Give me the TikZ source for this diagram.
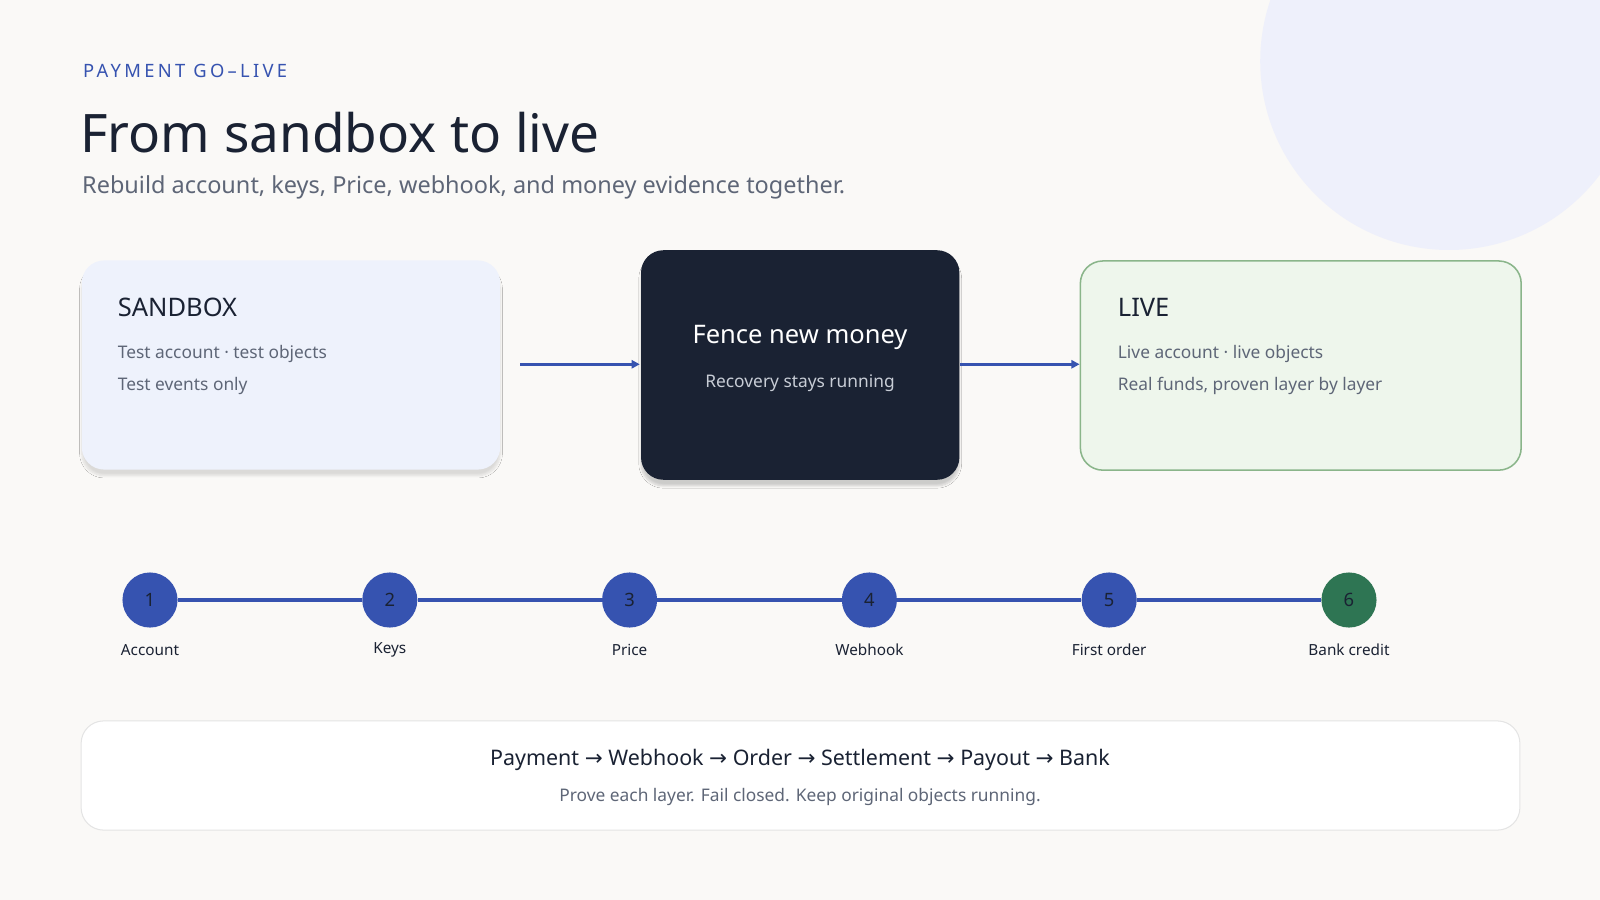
\documentclass[tikz,border=0pt]{standalone}
\usepackage{fontspec}
\setmainfont{Noto Sans}
\newfontfamily\arr{DejaVu Sans}
\usetikzlibrary{shadows.blur,arrows.meta}
\definecolor{bg}{HTML}{FAF9F7}
\definecolor{ink}{HTML}{1A2233}
\definecolor{blu}{HTML}{3653B0}
\definecolor{gry}{HTML}{5E6677}
\definecolor{grn}{HTML}{2E7553}
\definecolor{deco}{HTML}{EEF0FB}
\begin{document}
\begin{tikzpicture}[x=1pt,y=-1pt,
  card/.style={rounded corners=22pt,anchor=north west,inner sep=0pt},
  stepc/.style={circle,minimum size=54pt,inner sep=0pt,fill=blu,text=ink,font=\fontsize{18}{20}\selectfont},
  lab/.style={font=\fontsize{15}{18}\selectfont,text=ink},
  conn/.style={draw=blu,line width=3pt},
  arrow/.style={conn,-{Triangle[length=8pt,width=8pt]}},
  small/.style={font=\fontsize{17}{20}\selectfont,text=gry,anchor=west}]
\fill[bg] (0,0) rectangle (1568,882);
\useasboundingbox (0,0) rectangle (1568,882);
\begin{scope}
\clip (0,0) rectangle (1568,882);
\fill[deco] (1420,60) circle (185);
\end{scope}
\node[anchor=west,text=blu,font=\fontsize{18}{20}\selectfont] (kick) at (78,70) {\addfontfeature{LetterSpace=18}PAYMENT GO–LIVE};
\node[anchor=west,text=ink,font=\fontsize{52}{56}\selectfont\bfseries] (title) at (75,130) {From sandbox to live};
\node[anchor=west,text=gry,font=\fontsize{23}{26}\selectfont] (sub) at (77,184) {Rebuild account, keys, Price, webhook, and money evidence together.};
% cards
\node[card,minimum width=410pt,minimum height=205pt,fill={rgb,255:red,238;green,242;blue,252},blur shadow={shadow blur steps=8,shadow xshift=0pt,shadow yshift=-6pt,shadow opacity=12}] (sb) at (80,255) {};
\node[card,minimum width=312pt,minimum height=225pt,fill=ink,blur shadow={shadow blur steps=8,shadow xshift=0pt,shadow yshift=-6pt,shadow opacity=18}] (fence) at (628,245) {};
\node[card,minimum width=432pt,minimum height=205pt,fill={rgb,255:red,238;green,246;blue,236},draw={rgb,255:red,138;green,181;blue,138},line width=1.5pt] (live) at (1058,255) {};
\node[anchor=west,text=ink,font=\fontsize{25}{28}\selectfont] (sbt) at (112,301) {SANDBOX};
\node[small] (sb1) at (112,347) {Test account · test objects};
\node[small] (sb2) at (112,378) {Test events only};
\node[text=white,font=\fontsize{25}{28}\selectfont] (ft) at (784,331) {Fence new money};
\node[text={rgb,255:red,200;green,205;blue,214},font=\fontsize{17}{20}\selectfont] (f1) at (784,376) {Recovery stays running};
\node[anchor=west,text=ink,font=\fontsize{25}{28}\selectfont] (lt) at (1092,301) {LIVE};
\node[small] (l1) at (1092,347) {Live account · live objects};
\node[small] (l2) at (1092,378) {Real funds, proven layer by layer};
\coordinate (a0) at (510,357);
\coordinate (a1) at (627,357);
\coordinate (a2) at (941,357);
\coordinate (a3) at (1058,357);
\draw[arrow] (a0) -- (a1);
\draw[arrow] (a2) -- (a3);
% timeline
\foreach \i/\x/\t in {1/147/Account,2/382/Keys,3/617/Price,4/852/Webhook,5/1087/First order,6/1322/Bank credit}{
  \node[lab] (t\i) at (\x,637) {\t};
}
\node[stepc] (s1) at (147,588) {1};
\node[stepc] (s2) at (382,588) {2};
\node[stepc] (s3) at (617,588) {3};
\node[stepc] (s4) at (852,588) {4};
\node[stepc] (s5) at (1087,588) {5};
\node[stepc,fill=grn] (s6) at (1322,588) {6};
\foreach \a/\b in {s1/s2,s2/s3,s3/s4,s4/s5,s5/s6}{\draw[conn] (\a) -- (\b);}
% bottom
\node[card,minimum width=1410pt,minimum height=107pt,fill=white,draw={rgb,255:red,228;green,228;blue,228},line width=1pt] (bot) at (79,706) {};
\node[text=ink,font=\fontsize{21}{24}\selectfont] (b1) at (784,745) {Payment {\arr→} Webhook {\arr→} Order {\arr→} Settlement {\arr→} Payout {\arr→} Bank};
\node[text=gry,font=\fontsize{17}{20}\selectfont] (b2) at (784,781) {Prove each layer. Fail closed. Keep original objects running.};
\end{tikzpicture}
\end{document}
